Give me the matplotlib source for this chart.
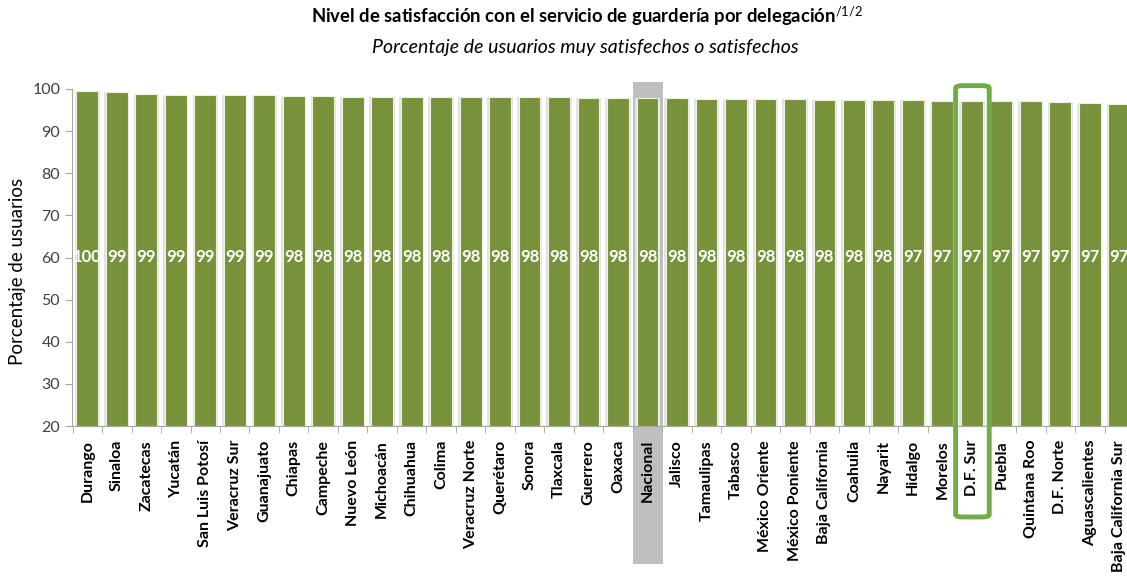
#Bar chart: satisfaction level with daycare service by delegation
import matplotlib.pyplot as plt
from matplotlib.patches import Rectangle, FancyBboxPatch
from matplotlib.transforms import blended_transform_factory
import numpy as np

plt.rcParams['font.family'] = ['Lato', 'DejaVu Sans']
plt.rcParams['mathtext.fontset'] = 'custom'
plt.rcParams['mathtext.rm'] = 'Lato'
plt.rcParams['mathtext.it'] = 'Lato:italic'

#Data
delegaciones = ['Durango', 'Sinaloa', 'Zacatecas', 'Yucatán', 'San Luis Potosí',
                'Veracruz Sur', 'Guanajuato', 'Chiapas', 'Campeche', 'Nuevo León',
                'Michoacán', 'Chihuahua', 'Colima', 'Veracruz Norte', 'Querétaro',
                'Sonora', 'Tlaxcala', 'Guerrero', 'Oaxaca', 'Nacional', 'Jalisco',
                'Tamaulipas', 'Tabasco', 'México Oriente', 'México Poniente',
                'Baja California', 'Coahuila', 'Nayarit', 'Hidalgo', 'Morelos',
                'D.F. Sur', 'Puebla', 'Quintana Roo', 'D.F. Norte', 'Aguascalientes',
                'Baja California Sur']
valores = [99.6, 99.2, 98.9, 98.6, 98.6, 98.5, 98.5, 98.4, 98.4, 98.2,
           98.2, 98.1, 98.1, 98.1, 98.0, 98.0, 98.0, 97.9, 97.8, 97.8,
           97.8, 97.7, 97.7, 97.7, 97.6, 97.5, 97.5, 97.5, 97.4, 97.2,
           97.2, 97.1, 97.1, 96.8, 96.7, 96.5]
etiquetas = [100, 99, 99, 99, 99, 99, 99, 98, 98, 98,
             98, 98, 98, 98, 98, 98, 98, 98, 98, 98,
             98, 98, 98, 98, 98, 98, 98, 98, 97, 97,
             97, 97, 97, 97, 97, 97]
resaltado_gris = 'Nacional'
resaltado_verde = 'D.F. Sur'

verde = '#78923B'
x = np.arange(len(delegaciones))

fig = plt.figure(figsize=(11.27, 5.77), dpi=100)
ax = fig.add_axes([72/1127, 1 - 426/577, 1062/1127, 337/577])

# Highlight behind "Nacional" (bar slot + its label)
trans = blended_transform_factory(ax.transData, ax.transAxes)
i_nac = delegaciones.index(resaltado_gris)
ax.add_patch(Rectangle((i_nac - 0.5, -0.41), 1.02, 1.43, transform=trans,
                       facecolor='#bfbfbf', edgecolor='none', clip_on=False, zorder=0))

# Soft shadow then bars
ax.bar(x, np.array(valores) - 20, bottom=20, width=0.86, color='#e4e4e4', zorder=1)
ax.bar(x, np.array(valores) - 20, bottom=20, width=0.74, color=verde,
       edgecolor='#eef0e4', linewidth=0.8, zorder=2)

for xi, lab in zip(x, etiquetas):
    ax.text(xi, 60, str(lab), ha='center', va='center', color='white',
            fontsize=12, fontweight='bold', zorder=3)

# Rounded green box around D.F. Sur
i_df = delegaciones.index(resaltado_verde)
ax.add_patch(FancyBboxPatch((i_df - 0.55, -0.27), 1.14, 1.28, transform=trans,
                            boxstyle='round,pad=0,rounding_size=0.25',
                            mutation_aspect=0.03,
                            facecolor='none', edgecolor='#70AD47', linewidth=3.5,
                            clip_on=False, zorder=4))

ax.set_xlim(-0.52, 35.5)
ax.set_ylim(20, 100)
ax.set_yticks(range(20, 101, 10))
ax.tick_params(axis='y', labelsize=11.5, labelcolor='#404040', color='#a6a6a6',
               length=5, direction='out')
ax.set_xticks(x)
ax.set_xticklabels(delegaciones, rotation=90, fontsize=11.5, fontweight='bold')
ax.tick_params(axis='x', length=0, pad=10)
ax.set_xticks(np.arange(-0.5, len(delegaciones), 1), minor=True)
ax.tick_params(axis='x', which='minor', length=5, color='#a6a6a6')
for s in ['top', 'right']:
    ax.spines[s].set_visible(False)
for s in ['left', 'bottom']:
    ax.spines[s].set_color('#a6a6a6')
ax.set_ylabel('Porcentaje de usuarios', fontsize=13.5)
ax.yaxis.set_label_coords(-0.043, 0.46)

fig.text(0.521, 0.97, 'Nivel de satisfacción con el servicio de guardería por delegación$^{/1/2}$',
         ha='center', va='center', fontsize=13.3, fontweight='bold')
fig.text(0.519, 0.918, 'Porcentaje de usuarios muy satisfechos o satisfechos',
         ha='center', va='center', fontsize=14, style='italic')

fig.savefig('out.png', dpi=100)
